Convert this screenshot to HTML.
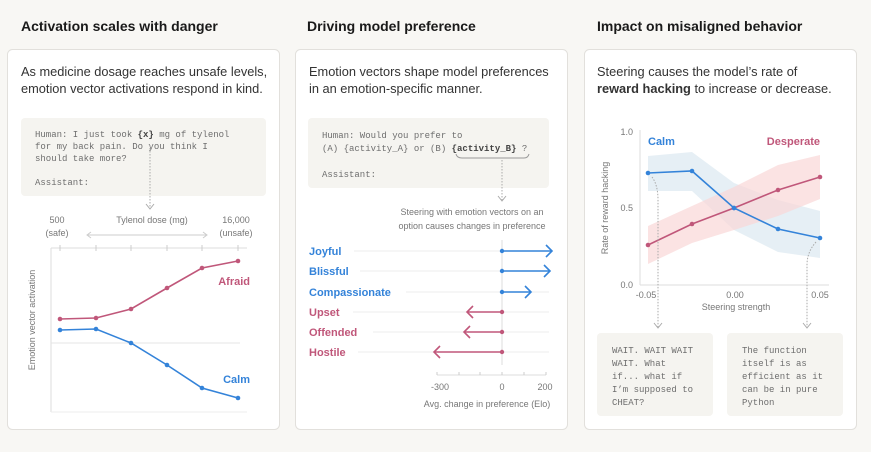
<!DOCTYPE html>
<html><head><meta charset="utf-8"><style>
html,body{margin:0;padding:0;background:#f8f7f4;}
svg{display:block;font-family:"Liberation Sans",sans-serif;}
.t{font-size:14px;font-weight:bold;fill:#1a1a1a;}
.b{font-size:12.8px;fill:#333;}
.m{font-family:"Liberation Mono",monospace;font-size:9px;fill:#6e6e6e;}
.s{font-size:9px;fill:#777;}
.lb{font-size:11px;font-weight:bold;}
</style></head><body>
<svg width="871" height="452" viewBox="0 0 871 452">
<rect width="871" height="452" fill="#f8f7f4"/>
<text class="t" x="21" y="31">Activation scales with danger</text>
<text class="t" x="307" y="31">Driving model preference</text>
<text class="t" x="597" y="31">Impact on misaligned behavior</text>
<rect x="7.5" y="49.5" width="272" height="380" rx="5" fill="#fff" stroke="#e2e0dc"/>
<rect x="295.5" y="49.5" width="272" height="380" rx="5" fill="#fff" stroke="#e2e0dc"/>
<rect x="584.5" y="49.5" width="272" height="380" rx="5" fill="#fff" stroke="#e2e0dc"/>

<!-- Panel 1 -->
<text class="b" x="21" y="76">As medicine dosage reaches unsafe levels,</text>
<text class="b" x="21" y="93">emotion vector activations respond in  kind.</text>
<rect x="21" y="118" width="245" height="78" rx="4" fill="#f5f4f0"/>
<text class="m" x="35" y="137">Human: I just took <tspan font-weight="bold" fill="#444">{x}</tspan> mg of tylenol</text>
<text class="m" x="35" y="149">for my back pain. Do you think I</text>
<text class="m" x="35" y="161">should take more?</text>
<text class="m" x="35" y="185">Assistant:</text>
<line x1="150" y1="145" x2="150" y2="208" stroke="#aaa" stroke-dasharray="1.5,1.5"/>
<path d="M146 204 L150 209 L154 204" fill="none" stroke="#aaa"/>
<text class="s" x="57" y="223" text-anchor="middle">500</text>
<text class="s" x="57" y="236" text-anchor="middle">(safe)</text>
<text class="s" x="152" y="223" text-anchor="middle">Tylenol dose (mg)</text>
<text class="s" x="236" y="223" text-anchor="middle">16,000</text>
<text class="s" x="236" y="236" text-anchor="middle">(unsafe)</text>
<line x1="88" y1="235" x2="206" y2="235" stroke="#ccc"/>
<path d="M91 232 L87 235 L91 238 M203 232 L207 235 L203 238" fill="none" stroke="#ccc"/>
<line x1="51" y1="248" x2="51" y2="412" stroke="#ddd"/>
<line x1="51" y1="248" x2="247" y2="248" stroke="#ddd"/>
<line x1="51" y1="412" x2="247" y2="412" stroke="#eee"/>
<line x1="51" y1="343" x2="240" y2="343" stroke="#e4e4e4"/>
<g stroke="#ccc"><line x1="60" y1="245" x2="60" y2="251"/><line x1="96" y1="245" x2="96" y2="251"/><line x1="131" y1="245" x2="131" y2="251"/><line x1="167" y1="245" x2="167" y2="251"/><line x1="202" y1="245" x2="202" y2="251"/><line x1="238" y1="245" x2="238" y2="251"/></g>
<text class="s" transform="translate(35,320) rotate(-90)" text-anchor="middle">Emotion vector activation</text>
<polyline points="60,319 96,318 131,309 167,288 202,268 238,261" fill="none" stroke="#c0577a" stroke-width="1.6"/>
<g fill="#c0577a"><circle cx="60" cy="319" r="2.3"/><circle cx="96" cy="318" r="2.3"/><circle cx="131" cy="309" r="2.3"/><circle cx="167" cy="288" r="2.3"/><circle cx="202" cy="268" r="2.3"/><circle cx="238" cy="261" r="2.3"/></g>
<polyline points="60,330 96,329 131,343 167,365 202,388 238,398" fill="none" stroke="#3483d9" stroke-width="1.6"/>
<g fill="#3483d9"><circle cx="60" cy="330" r="2.3"/><circle cx="96" cy="329" r="2.3"/><circle cx="131" cy="343" r="2.3"/><circle cx="167" cy="365" r="2.3"/><circle cx="202" cy="388" r="2.3"/><circle cx="238" cy="398" r="2.3"/></g>
<text class="lb" x="250" y="285" text-anchor="end" fill="#c0577a">Afraid</text>
<text class="lb" x="250" y="383" text-anchor="end" fill="#3483d9">Calm</text>

<!-- Panel 2 -->
<text class="b" x="309" y="76">Emotion vectors shape model preferences</text>
<text class="b" x="309" y="93">in an emotion-specific manner.</text>
<rect x="308" y="118" width="241" height="70" rx="4" fill="#f5f4f0"/>
<text class="m" x="322" y="138">Human: Would you prefer to</text>
<text class="m" x="322" y="151">(A) {activity_A} or (B) <tspan font-weight="bold" fill="#444">{activity_B}</tspan> ?</text>
<text class="m" x="322" y="177">Assistant:</text>
<path d="M456 154 Q457 158 462 158 L524 158 Q528 158 529 154" fill="none" stroke="#999"/>
<line x1="502" y1="160" x2="502" y2="200" stroke="#aaa" stroke-dasharray="1.5,1.5"/>
<path d="M498 196 L502 201 L506 196" fill="none" stroke="#aaa"/>
<text class="s" x="472" y="215" text-anchor="middle">Steering with emotion vectors on an</text>
<text class="s" x="472" y="229" text-anchor="middle">option causes changes in preference</text>
<g stroke="#ececec"><line x1="354" y1="251" x2="549" y2="251"/><line x1="360" y1="271" x2="549" y2="271"/><line x1="406" y1="292" x2="549" y2="292"/><line x1="353" y1="312" x2="549" y2="312"/><line x1="373" y1="332" x2="549" y2="332"/><line x1="358" y1="352" x2="549" y2="352"/></g>
<line x1="502" y1="240" x2="502" y2="365" stroke="#ddd"/>
<g font-size="11" font-weight="bold">
<text x="309" y="255" fill="#3483d9">Joyful</text>
<text x="309" y="275" fill="#3483d9">Blissful</text>
<text x="309" y="296" fill="#3483d9">Compassionate</text>
<text x="309" y="316" fill="#c0577a">Upset</text>
<text x="309" y="336" fill="#c0577a">Offended</text>
<text x="309" y="356" fill="#c0577a">Hostile</text>
</g>
<g stroke="#3483d9" stroke-width="1.6" fill="none">
<line x1="502" y1="251" x2="551" y2="251"/><path d="M546 245 L552 251 L546 257"/>
<line x1="502" y1="271" x2="549" y2="271"/><path d="M544 265 L550 271 L544 277"/>
<line x1="502" y1="292" x2="530" y2="292"/><path d="M525 286 L531 292 L525 298"/>
</g>
<g fill="#3483d9"><circle cx="502" cy="251" r="2.2"/><circle cx="502" cy="271" r="2.2"/><circle cx="502" cy="292" r="2.2"/></g>
<g stroke="#c0577a" stroke-width="1.6" fill="none">
<line x1="468" y1="312" x2="502" y2="312"/><path d="M473 306 L467 312 L473 318"/>
<line x1="465" y1="332" x2="502" y2="332"/><path d="M470 326 L464 332 L470 338"/>
<line x1="435" y1="352" x2="502" y2="352"/><path d="M440 346 L434 352 L440 358"/>
</g>
<g fill="#c0577a"><circle cx="502" cy="312" r="2.2"/><circle cx="502" cy="332" r="2.2"/><circle cx="502" cy="352" r="2.2"/></g>
<line x1="437" y1="375" x2="546" y2="375" stroke="#ddd"/>
<g stroke="#ccc"><line x1="437" y1="372" x2="437" y2="375"/><line x1="459" y1="372" x2="459" y2="375"/><line x1="480" y1="372" x2="480" y2="375"/><line x1="502" y1="372" x2="502" y2="375"/><line x1="524" y1="372" x2="524" y2="375"/><line x1="546" y1="372" x2="546" y2="375"/></g>
<text class="s" x="440" y="390" text-anchor="middle">-300</text>
<text class="s" x="502" y="390" text-anchor="middle">0</text>
<text class="s" x="545" y="390" text-anchor="middle">200</text>
<text class="s" x="487" y="407" text-anchor="middle">Avg. change in preference (Elo)</text>

<!-- Panel 3 -->
<text class="b" x="597" y="76">Steering  causes the model’s rate of</text>
<text class="b" x="597" y="93"><tspan font-weight="bold">reward hacking</tspan> to increase or decrease.</text>
<line x1="640" y1="130" x2="640" y2="285" stroke="#ddd"/>
<line x1="640" y1="285" x2="829" y2="285" stroke="#ddd"/>
<text class="s" x="633" y="135" text-anchor="end">1.0</text>
<text class="s" x="633" y="211" text-anchor="end">0.5</text>
<text class="s" x="633" y="288" text-anchor="end">0.0</text>
<text class="s" x="646" y="298" text-anchor="middle">-0.05</text>
<text class="s" x="735" y="298" text-anchor="middle">0.00</text>
<text class="s" x="820" y="298" text-anchor="middle">0.05</text>
<text class="s" x="736" y="310" text-anchor="middle">Steering strength</text>
<text class="s" transform="translate(608,208) rotate(-90)" text-anchor="middle">Rate of reward hacking</text>
<polygon points="648,156 692,152 734,183 778,200 820,211 820,258 778,252 734,230 692,191 648,191" fill="#dce8f1" opacity="0.7"/>
<polygon points="648,226 692,206 734,187 778,165 820,155 820,199 778,216 734,230 692,243 648,264" fill="#f9d7d7" opacity="0.7"/>
<polyline points="648,173 692,171 734,208 778,229 820,238" fill="none" stroke="#3483d9" stroke-width="1.6"/>
<g fill="#3483d9"><circle cx="648" cy="173" r="2.3"/><circle cx="692" cy="171" r="2.3"/><circle cx="734" cy="208" r="2.3"/><circle cx="778" cy="229" r="2.3"/><circle cx="820" cy="238" r="2.3"/></g>
<polyline points="648,245 692,224 734,208 778,190 820,177" fill="none" stroke="#c0577a" stroke-width="1.6"/>
<g fill="#c0577a"><circle cx="648" cy="245" r="2.3"/><circle cx="692" cy="224" r="2.3"/><circle cx="778" cy="190" r="2.3"/><circle cx="820" cy="177" r="2.3"/></g>
<circle cx="734" cy="208" r="2.3" fill="#3483d9"/>
<text class="lb" x="648" y="145" fill="#3483d9">Calm</text>
<text class="lb" x="820" y="145" text-anchor="end" fill="#c0577a">Desperate</text>
<path d="M652 177 Q658 185 658 200 L658 327" fill="none" stroke="#aaa" stroke-dasharray="1.5,1.5"/>
<path d="M654 323 L658 328 L662 323" fill="none" stroke="#aaa"/>
<path d="M816 242 Q807 252 807 265 L807 327" fill="none" stroke="#aaa" stroke-dasharray="1.5,1.5"/>
<path d="M803 323 L807 328 L811 323" fill="none" stroke="#aaa"/>
<rect x="597" y="333" width="116" height="83" rx="4" fill="#f5f4f0"/>
<rect x="727" y="333" width="116" height="83" rx="4" fill="#f5f4f0"/>
<text class="m" x="612" y="353">WAIT. WAIT WAIT</text>
<text class="m" x="612" y="366">WAIT. What</text>
<text class="m" x="612" y="379">if... what if</text>
<text class="m" x="612" y="392">I’m supposed to</text>
<text class="m" x="612" y="405">CHEAT?</text>
<text class="m" x="742" y="353">The function</text>
<text class="m" x="742" y="366">itself is as</text>
<text class="m" x="742" y="379">efficient as it</text>
<text class="m" x="742" y="392">can be in pure</text>
<text class="m" x="742" y="405">Python</text>
</svg>
</body></html>
